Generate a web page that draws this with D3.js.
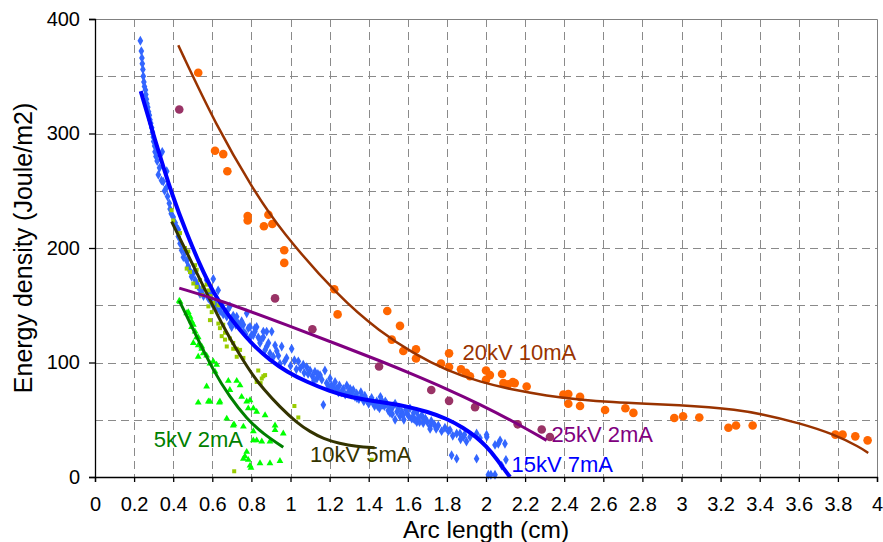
<!DOCTYPE html>
<html>
<head>
<meta charset="utf-8">
<script src="https://cdn.jsdelivr.net/npm/d3@7"></script>
<style>
  body { margin: 0; background: #fff; }
  svg { display: block; }
  text { font-family: "Liberation Sans", Arial, sans-serif; }
</style>
</head>
<body>
<svg id="chart" width="883" height="542"></svg>
<script>
// Axis ticks
const xTickValues = [0, 0.2, 0.4, 0.6, 0.8, 1, 1.2, 1.4, 1.6, 1.8, 2, 2.2, 2.4, 2.6, 2.8, 3, 3.2, 3.4, 3.6, 3.8, 4];
const yTickValues = [0, 100, 200, 300, 400];
const yGridValues = [50, 100, 150, 200, 250, 300, 350];

// Measured points: [arc length (cm), energy density (J/m2)]
const pts5kV = [
  [0.431,154],[0.435,153],[0.469,143],[0.477,144],[0.486,140],[0.494,136],[0.494,131],[0.503,133],
  [0.503,117],[0.512,127],[0.52,122],[0.528,122],[0.528,115],[0.528,105],[0.528,65],[0.546,114],
  [0.546,112],[0.554,108],[0.571,106],[0.571,79],[0.58,66],[0.588,99],[0.588,66],[0.605,101],
  [0.614,92],[0.622,98],[0.636,65],[0.639,66],[0.674,51],[0.682,84],[0.69,76],[0.707,45],
  [0.711,46],[0.725,84],[0.742,80],[0.75,70],[0.759,44],[0.759,16],[0.767,18],[0.776,66],
  [0.776,22],[0.784,60],[0.784,15],[0.793,67],[0.793,10],[0.798,8],[0.81,60],[0.81,40],
  [0.81,32],[0.827,57],[0.827,32],[0.844,12],[0.853,31],[0.87,54],[0.895,31],[0.895,12],
  [0.921,45],[0.921,41],[0.946,14],[0.963,38]
];
const pts10kV = [
  [0.392,233],[0.4,224],[0.435,213],[0.46,200],[0.469,182],[0.477,197],[0.486,179],[0.503,169],
  [0.512,185],[0.52,181],[0.52,166],[0.537,172],[0.546,159],[0.554,166],[0.571,168],[0.58,163],
  [0.58,149],[0.588,158],[0.588,137],[0.597,144],[0.605,152],[0.631,150],[0.631,134],[0.639,130],
  [0.648,123],[0.656,133],[0.665,120],[0.665,126],[0.674,114],[0.69,121],[0.707,112],[0.707,117],
  [0.712,5],[0.725,105],[0.725,112],[0.742,111],[0.759,104],[0.827,83],[0.835,93],[0.847,82],
  [0.853,86],[0.861,88],[0.87,89],[1.02,62],[1.04,52],[1.415,15]
];
const pts15kV = [
  [0.232,381],[0.237,372],[0.24,366],[0.242,361],[0.245,356],[0.247,350],[0.25,345],[0.253,341],
  [0.258,338],[0.26,334],[0.263,330],[0.266,326],[0.27,323],[0.274,319],[0.278,316],[0.281,312],
  [0.285,309],[0.29,305],[0.294,301],[0.298,297],[0.3,293],[0.305,289],[0.307,284],[0.312,280],
  [0.318,276],[0.344,284],[0.33,270],[0.324,264],[0.34,259],[0.349,258],[0.367,267],[0.356,250],
  [0.367,253],[0.371,245],[0.38,239],[0.384,234],[0.39,230],[0.4,227],[0.41,222],[0.418,218],
  [0.426,216],[0.426,210],[0.435,204],[0.443,198],[0.452,192],[0.46,196],[0.469,189],[0.477,184],
  [0.486,180],[0.494,175],[0.503,178],[0.512,172],[0.52,169],[0.528,166],[0.537,160],[0.546,163],
  [0.555,158],[0.571,172],[0.605,173],[0.58,156],[0.588,160],[0.597,152],[0.614,152],[0.622,147],
  [0.64,145],[0.656,142],[0.674,140],[0.69,149],[0.69,134],[0.699,131],[0.707,141],[0.716,137],
  [0.725,140],[0.733,134],[0.742,131],[0.759,127],[0.759,133],[0.776,143],[0.784,130],[0.793,131],
  [0.801,124],[0.81,124],[0.818,130],[0.818,127],[0.827,131],[0.835,122],[0.844,117],[0.861,127],
  [0.861,122],[0.878,127],[0.878,114],[0.887,117],[0.895,108],[0.904,127],[0.912,105],[0.921,115],
  [0.938,106],[0.946,99],[0.955,114],[0.98,104],[1.006,112],[1.02,102],[1.04,101],[1.05,95],
  [1.065,98],[1.083,96],[1.09,90],[1.1,93],[1.112,88],[1.125,92],[1.135,86],[1.151,89],
  [1.16,85],[1.168,63],[1.176,93],[1.185,82],[1.195,79],[1.202,86],[1.21,80],[1.228,83],
  [1.236,77],[1.25,80],[1.26,74],[1.27,77],[1.288,80],[1.296,74],[1.31,72],[1.321,76],
  [1.33,70],[1.338,73],[1.35,68],[1.364,70],[1.375,66],[1.39,67],[1.4,64],[1.415,69],
  [1.43,62],[1.441,66],[1.455,60],[1.466,67],[1.48,62],[1.492,64],[1.5,58],[1.509,61],
  [1.509,56],[1.52,55],[1.535,64],[1.535,50],[1.552,60],[1.56,53],[1.569,57],[1.58,50],
  [1.594,56],[1.611,60],[1.62,51],[1.628,51],[1.637,50],[1.646,57],[1.646,48],[1.66,48],
  [1.671,54],[1.679,47],[1.69,51],[1.714,44],[1.714,42],[1.72,49],[1.756,45],[1.773,40],
  [1.79,43],[1.807,40],[1.816,41],[1.83,36],[1.85,38],[1.867,38],[1.87,33],[1.884,35],
  [1.89,37],[1.9,31],[1.918,35],[1.952,38],[1.969,34],[2.003,37],[2.004,35],[2.046,28],
  [2.063,29],[2.072,32],[2.097,29],[2.102,15],[2.08,10],[1.824,19],[1.85,16],[1.952,16],
  [2.012,2],[2.025,2],[2.046,2],
  [1.22,78],[1.245,74],[1.28,72],[1.305,77],[1.34,69],[1.36,74],[1.38,71],[1.42,65],
  [1.445,62],[1.46,70],[1.47,63],[1.485,66],[1.515,59],[1.525,62],[1.545,57],[1.575,54],
  [1.59,59],[1.605,53],[1.63,56],[1.655,52],[1.68,51],[1.7,48],[1.735,46],[1.745,42],
  [0.63,163],[0.65,150],[0.68,146],[0.72,133],[0.75,136],[0.77,125],[0.79,121],[0.85,120],
  [0.87,111],[0.93,110],[0.97,101],[1.0,97],[1.03,94],[1.07,91],[1.12,84],[1.14,90]
];
const pts20kV = [
  [0.528,353],[0.614,285],[0.656,282],[0.677,267],[0.781,228],[0.781,224],[0.864,219],[0.887,229],
  [0.907,221],[0.968,198],[0.968,187],[1.224,164],[1.241,142],[1.495,145],[1.56,132],[1.518,120],
  [1.577,110],[1.642,111.5],[1.642,103.5],[1.77,99],[1.811,108],[1.811,96],[1.872,94],[1.898,91],
  [1.918,88],[2.0,93],[2.02,89],[2.0,85],[2.082,90],[2.089,82],[2.114,81],[2.137,83],
  [2.147,82],[2.208,79],[2.396,72],[2.421,72.5],[2.421,64],[2.481,70],[2.481,62],[2.609,58.5],
  [2.713,60],[2.754,56],[2.963,51.5],[3.008,53],[3.091,52],[3.24,43],[3.279,45],[3.364,45],
  [3.787,37],[3.824,37],[3.889,35.5],[3.952,32]
];
const pts25kV = [
  [0.431,321],[0.921,156],[1.112,129],[1.453,96.5],[1.72,76],[1.811,66.5],[1.944,61],[2.162,46],
  [2.285,41.5],[2.327,35]
];

// Fitted trend curves, sampled along each fit
const fit5kV = [[0.431,154],[0.52,122.5],[0.605,93],[0.69,69.5],[0.776,51],[0.861,37.5],[0.963,26]];
const fit10kV = [[0.392,223],[0.47,196],[0.55,168],[0.656,131],[0.742,106],[0.81,88],[0.861,77],
  [0.946,61],[1.032,47.5],[1.1,39.5],[1.168,33.5],[1.25,29.2],[1.338,26.5],[1.43,25.5]];
const fit15kV = [[0.234,337],[0.3,298],[0.4,243],[0.469,213],[0.537,185],[0.605,161],[0.674,143],
  [0.742,128],[0.81,115],[0.895,102],[0.98,92],[1.083,83],[1.2,75],[1.3,70],[1.4,67],[1.5,64.5],
  [1.6,61.5],[1.7,57],[1.8,51],[1.884,43],[1.95,35],[2.0,27],[2.05,17],[2.1,5],[2.123,0]];
const fit20kV = [[0.426,377],[0.622,306],[0.81,251],[0.946,216],[1.253,156],[1.458,127],[1.628,108],
  [1.799,93],[1.969,83],[2.14,76],[2.31,71],[2.48,67.5],[2.65,65.3],[2.82,64],[2.99,62.8],[3.146,61],
  [3.265,59],[3.401,55.5],[3.606,47],[3.777,37.5],[3.913,26],[3.955,21]];
const fit25kV = [[0.431,165],[0.639,154.5],[1.0,131.5],[1.253,115],[1.458,101.5],[1.628,89.5],
  [1.799,77],[1.969,63.5],[2.14,48.5],[2.31,32]];

const seriesNames = ["5kV 2mA", "10kV 5mA", "15kV 7mA", "20kV 10mA", "25kV 2mA"];

const svg = d3.select("#chart");
const plot = { left: 95, right: 877, top: 19, bottom: 477 };

const x = d3.scaleLinear().domain([0, 4]).range([plot.left, plot.right]);
const y = d3.scaleLinear().domain([0, 400]).range([plot.bottom, plot.top]);

// Grid
const grid = svg.append("g").attr("stroke", "#8a8a8a").attr("stroke-width", 1)
  .attr("stroke-dasharray", "8,5").attr("fill", "none");
grid.selectAll("line.v").data(xTickValues.filter(v => v > 0 && v < 4)).join("line")
  .attr("x1", d => Math.round(x(d)) + 0.5).attr("x2", d => Math.round(x(d)) + 0.5)
  .attr("y1", plot.top).attr("y2", plot.bottom);
grid.selectAll("line.h").data(yGridValues).join("line")
  .attr("y1", d => Math.round(y(d)) + 0.5).attr("y2", d => Math.round(y(d)) + 0.5)
  .attr("x1", plot.left).attr("x2", plot.right);

// Plot frame (top and right)
svg.append("path")
  .attr("d", `M${plot.left},${plot.top + 0.5}H${plot.right + 0.5}V${plot.bottom}`)
  .attr("stroke", "#808080").attr("fill", "none").attr("stroke-width", 1);

// Markers
const mk = svg.append("g");
const symDiamond = d3.symbol().type(d3.symbolDiamond).size(28);
const symTriangle = d3.symbol().type(d3.symbolTriangle).size(20);

mk.append("g").selectAll("path").data(pts15kV).join("path")
  .attr("d", symDiamond).attr("transform", d => `translate(${x(d[0])},${y(d[1])})`)
  .attr("fill", "#3366ff");
mk.append("g").selectAll("rect").data(pts10kV).join("rect")
  .attr("x", d => x(d[0]) - 2).attr("y", d => y(d[1]) - 2).attr("width", 4).attr("height", 4)
  .attr("fill", "#99cc00");
mk.append("g").selectAll("path").data(pts5kV).join("path")
  .attr("d", symTriangle).attr("transform", d => `translate(${x(d[0])},${y(d[1])})`)
  .attr("fill", "#00ff00");
mk.append("g").selectAll("circle").data(pts20kV).join("circle")
  .attr("cx", d => x(d[0])).attr("cy", d => y(d[1])).attr("r", 4.3).attr("fill", "#ff6600");
mk.append("g").selectAll("circle").data(pts25kV).join("circle")
  .attr("cx", d => x(d[0])).attr("cy", d => y(d[1])).attr("r", 4.3).attr("fill", "#993366");

// Trend curves
const line = d3.line().x(d => x(d[0])).y(d => y(d[1])).curve(d3.curveBasis);
const fits = [
  { data: fit5kV, color: "#008000", w: 3 },
  { data: fit10kV, color: "#333300", w: 3 },
  { data: fit15kV, color: "#0000ff", w: 4 },
  { data: fit20kV, color: "#993300", w: 2.5 },
  { data: fit25kV, color: "#800080", w: 3 }
];
svg.append("g").selectAll("path").data(fits).join("path")
  .attr("d", d => line(d.data)).attr("fill", "none")
  .attr("stroke", d => d.color).attr("stroke-width", d => d.w);

// Axes
const xAxis = d3.axisBottom(x).tickValues(xTickValues).tickSize(5).tickPadding(15)
  .tickFormat(d3.format("~g"));
const gx = svg.append("g").attr("transform", `translate(0,${plot.bottom})`).call(xAxis);
gx.select(".domain").attr("stroke", "#000").attr("stroke-width", 1.3);
gx.selectAll(".tick line").attr("stroke", "#000").attr("stroke-width", 1.3);
gx.selectAll(".tick text").attr("font-size", 20).attr("fill", "#000")
  .attr("font-family", '"Liberation Sans", Arial, sans-serif');

const yAxis = d3.axisLeft(y).tickValues(yTickValues).tickSize(6).tickPadding(9);
const gy = svg.append("g").attr("transform", `translate(${plot.left},0)`).call(yAxis);
gy.select(".domain").attr("stroke", "#000").attr("stroke-width", 1.3);
gy.selectAll(".tick line").attr("stroke", "#000").attr("stroke-width", 1.3);
gy.selectAll(".tick text").attr("font-size", 20).attr("fill", "#000")
  .attr("font-family", '"Liberation Sans", Arial, sans-serif');

// Axis titles
svg.append("text").attr("x", (plot.left + plot.right) / 2).attr("y", 538)
  .attr("text-anchor", "middle").attr("font-size", 24.5).attr("fill", "#000")
  .text("Arc length (cm)");
svg.append("text").attr("transform", `translate(32,${(plot.top + plot.bottom) / 2}) rotate(-90)`)
  .attr("text-anchor", "middle").attr("font-size", 25).attr("fill", "#000")
  .text("Energy density (Joule/m2)");

// Series labels
const labels = [
  { name: seriesNames[0], color: "#008000", at: [0.3, 26] },
  { name: seriesNames[1], color: "#333300", at: [1.1, 13] },
  { name: seriesNames[2], color: "#0000ff", at: [2.13, 4.5] },
  { name: seriesNames[3], color: "#993300", at: [1.88, 102] },
  { name: seriesNames[4], color: "#800080", at: [2.335, 31] }
];
svg.append("g").selectAll("text").data(labels).join("text")
  .attr("x", d => x(d.at[0])).attr("y", d => y(d.at[1]))
  .attr("font-size", 22).attr("fill", d => d.color).text(d => d.name);
</script>
</body>
</html>
